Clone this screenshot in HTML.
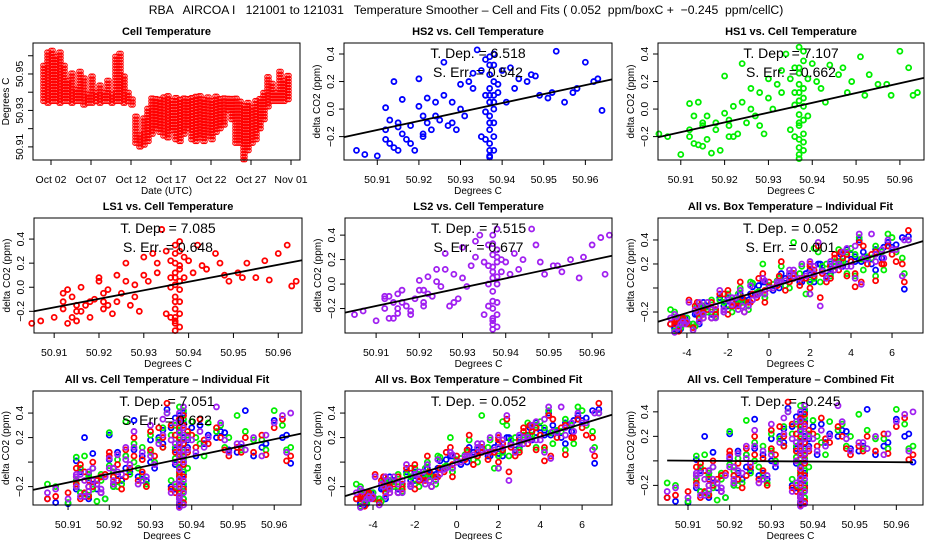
<!DOCTYPE html>
<html><head><meta charset="utf-8"><style>
html,body{margin:0;padding:0;background:#fff;}
svg{display:block;font-family:"Liberation Sans",sans-serif;}
</style></head><body>
<svg id="chart" width="936" height="540" viewBox="0 0 936 540">
<rect width="936" height="540" fill="#fff"/>
<text x="466" y="14" text-anchor="middle" font-size="12.2" style="white-space:pre">RBA   AIRCOA I   121001 to 121031   Temperature Smoother – Cell and Fits ( 0.052  ppm/boxC +  −0.245  ppm/cellC)</text>
</svg>
<script>
// Cell temperature time series: half-day samples starting Oct 1
const tsLow = [50.935,50.934,50.935,50.935,50.934,50.935,50.935,50.934,50.935,50.935,50.933,50.934,50.934,50.935,50.934,50.935,50.935,50.934,50.935,50.935,50.934,50.935,50.933,
50.912,50.91,50.911,
50.913,50.917,50.92,50.918,50.916,50.915,50.919,50.914,50.913,50.917,50.92,50.914,50.913,50.915,50.913,50.916,50.914,50.918,50.92,50.922,
50.93,50.925,50.912,50.912,50.903,50.908,50.912,50.914,50.92,50.925,
50.932,50.935,50.935,50.935,50.935,50.936];
const tsHigh = [50.955,50.962,50.963,50.96,50.963,50.955,50.948,50.952,50.942,50.952,50.948,50.94,50.95,50.94,50.945,50.94,50.948,50.94,50.96,50.962,50.95,50.94,50.937,
50.928,50.918,50.926,
50.932,50.938,50.938,50.937,50.938,50.938,50.937,50.938,50.936,50.938,50.938,50.937,50.938,50.938,50.937,50.938,50.936,50.938,50.938,50.938,
50.938,50.938,50.937,50.936,50.934,50.935,50.933,50.936,50.938,50.94,
50.95,50.945,50.94,50.953,50.948,50.95];
const dateTicks = ["Oct 02","Oct 07","Oct 12","Oct 17","Oct 22","Oct 27","Nov 01"];
const dateTickDays = [2,7,12,17,22,27,32];

// Scatter samples
const cellT = [50.905,50.907,50.910,50.912,50.912,50.913,50.914,50.915,50.915,50.916,50.917,50.918,50.919,50.920,50.921,50.921,50.922,50.923,50.924,50.925,50.926,50.927,50.928,50.929,50.930,50.931,50.932,50.933,50.934,50.935,50.936,50.936,50.937,50.937,50.937,50.937,50.937,50.937,50.937,50.937,50.938,50.938,50.938,50.938,50.938,50.939,50.940,50.941,50.942,50.944,50.946,50.948,50.949,50.951,50.953,50.955,50.957,50.960,50.962,50.964,
50.912,50.913,50.914,50.915,50.916,50.918,50.920,50.921,50.922,50.924,50.926,50.928,50.930,50.933,50.935,50.936,50.937,50.937,50.937,50.937,50.938,50.938,50.938,50.938,50.937,50.936,50.939,50.943,50.947,50.952,50.958,50.963];
const boxT = [-4.8,-4.6,-4.3,-0.8,-3.0,-4.0,2.5,-1.2,-4.5,2.0,-3.6,-3.2,-3.9,4.5,-0.2,-2.6,0.8,-2.0,2.2,-2.4,5.6,-1.5,1.5,-3.4,3.6,-1.4,3.2,4.2,6.8,-3.2,6.2,1.0,-4.4,-4.1,-2.2,-0.6,0.4,2.6,4.8,5.8,-3.7,-1.0,0.0,3.0,5.2,1.8,4.0,-0.3,4.6,3.4,5.0,3.8,2.8,1.2,6.5,1.6,0.6,6.0,2.4,6.6,
-3.5,-2.0,-4.2,-1.6,-3.3,-2.8,-0.5,-2.2,-1.8,-0.9,1.0,-1.3,0.5,2.0,3.5,-2.8,-3.4,-1.8,1.2,3.8,-2.6,-0.2,2.2,4.4,-4.6,0.2,3.2,2.0,5.5,3.0,5.2,4.2];
const hs2 = [-0.30,-0.33,-0.34,0.01,-0.15,-0.25,0.20,-0.10,-0.30,0.07,-0.22,-0.12,-0.30,0.22,-0.05,-0.18,0.08,-0.15,0.05,-0.08,0.34,-0.12,0.05,-0.15,0.18,-0.05,0.20,0.26,0.43,-0.20,0.36,0.10,-0.35,-0.25,-0.15,-0.05,0.05,0.15,0.25,0.38,-0.30,-0.10,0.00,0.20,0.32,0.12,0.28,0.05,0.30,0.22,0.20,0.24,0.10,0.08,0.42,0.05,0.12,0.34,0.20,-0.01,
-0.22,-0.08,-0.28,-0.13,-0.18,-0.25,0.02,-0.20,-0.10,-0.05,0.10,-0.10,0.00,0.15,0.28,-0.22,-0.30,-0.10,0.10,0.32,-0.20,0.05,0.10,0.40,-0.34,-0.02,0.18,0.15,0.25,0.12,0.15,0.22];
const hs1 = [-0.18,-0.20,-0.33,0.04,-0.20,-0.25,0.05,-0.12,-0.27,-0.05,-0.32,-0.15,-0.30,0.24,-0.08,-0.20,0.02,-0.18,0.33,-0.10,0.15,-0.05,0.12,-0.18,0.22,0.00,0.18,0.28,0.40,-0.15,0.30,0.12,-0.33,-0.28,-0.12,-0.04,0.06,0.18,0.26,0.45,-0.30,-0.18,0.02,0.15,0.35,-0.05,0.33,0.20,0.15,0.32,0.25,0.12,0.20,0.38,0.25,0.18,0.18,0.42,0.30,0.12,
-0.15,-0.05,-0.26,-0.10,-0.22,-0.10,-0.03,-0.12,-0.20,0.05,0.00,-0.12,0.08,0.12,0.22,-0.20,-0.22,-0.10,0.12,0.30,-0.24,-0.08,0.08,0.42,-0.36,0.03,0.22,0.05,0.30,0.10,0.10,0.10];
const ls1 = [-0.30,-0.28,-0.25,-0.05,-0.18,-0.30,-0.08,-0.20,-0.28,0.00,-0.15,-0.25,-0.10,0.05,-0.12,-0.18,-0.02,-0.22,0.10,-0.05,0.20,-0.15,0.02,-0.20,0.25,0.05,0.28,0.12,0.48,-0.22,0.22,0.08,-0.36,-0.28,-0.18,-0.08,0.02,0.12,0.20,0.35,-0.33,-0.12,0.05,0.18,0.30,0.08,0.22,0.12,0.35,0.15,0.28,0.10,0.05,0.12,0.20,0.08,0.22,0.28,0.35,0.05,
-0.12,-0.02,-0.25,-0.15,-0.20,-0.12,0.08,-0.05,-0.15,-0.12,0.05,-0.08,0.10,0.20,0.30,-0.25,-0.25,-0.12,0.08,0.28,-0.22,-0.02,0.15,0.38,-0.30,0.00,0.25,0.18,0.20,0.08,0.06,0.01];
const ls2 = [-0.25,-0.22,-0.30,-0.10,-0.12,-0.28,-0.15,-0.20,-0.24,-0.05,-0.18,-0.22,-0.12,0.03,-0.05,-0.15,0.06,-0.10,0.12,-0.02,0.25,-0.18,0.08,-0.12,0.30,-0.02,0.15,0.35,0.40,-0.25,0.32,0.15,-0.33,-0.30,-0.20,-0.06,0.05,0.14,0.24,0.40,-0.35,-0.15,0.00,0.22,0.28,0.10,0.18,0.08,0.25,0.20,0.45,0.18,0.08,0.15,0.10,0.20,0.05,0.32,0.38,0.40,
-0.20,-0.10,-0.28,-0.08,-0.15,-0.25,-0.05,-0.18,-0.08,0.02,0.12,-0.15,0.05,0.22,0.18,-0.18,-0.28,-0.14,0.10,0.33,-0.25,0.06,0.18,0.45,-0.37,0.00,0.20,0.12,0.32,0.15,0.22,0.08];
const fitSlopes = [6.518,7.107,7.085,7.515,0.052,7.051,0.052,-0.245];
const fitErrs = ["0.542","0.662","0.648","0.677","0.001","0.622"];

const NS="http://www.w3.org/2000/svg";
const svg=document.getElementById('chart');
function mk(tag,attrs,parent){const e=document.createElementNS(NS,tag);for(const k in attrs)e.setAttribute(k,attrs[k]);(parent||svg).appendChild(e);return e;}

function panel(name,p,title,xTicks,xLabels,yTicks,yLabels,xTitle,yTitle,sxOverride){
  const g=mk('g',{});
  
  
  const sx=sxOverride||(v=>p.l+(v-p.x0)/(p.x1-p.x0)*(p.r-p.l));
  const sy=v=>p.b-(v-p.y0)/(p.y1-p.y0)*(p.b-p.t);
  const t=mk('text',{x:(p.l+p.r)/2,y:p.t-8,'text-anchor':'middle','font-size':11,'font-weight':'bold'},g);
  t.textContent=title;
  
  
  const marks=mk('g',{},g);
  
  
  const xa=mk('g',{},g);
  
  
  xTicks.forEach((v,i)=>{const x=sx(v);mk('line',{x1:x,x2:x,y1:p.b,y2:p.b+5,stroke:'#000'},xa);
    const tx=mk('text',{x:x,y:p.b+23,'text-anchor':'middle','font-size':10.5},xa);tx.textContent=xLabels[i];
    
    });
  const xt=mk('text',{x:(p.l+p.r)/2,y:p.b+34,'text-anchor':'middle','font-size':10},g);xt.textContent=xTitle;
  
  
  const ya=mk('g',{},g);
  
  
  yTicks.forEach((v,i)=>{const y=sy(v);mk('line',{x1:p.l,x2:p.l-5,y1:y,y2:y,stroke:'#000'},ya);
    if(yLabels[i]!==''){const ty=mk('text',{x:p.l-10,y:y,'text-anchor':'middle','font-size':10.5,transform:`rotate(-90 ${p.l-10} ${y})`},ya);ty.textContent=yLabels[i];
    
    }});
  const yt=mk('text',{x:p.l-24,y:(p.t+p.b)/2,'text-anchor':'middle','font-size':10,transform:`rotate(-90 ${p.l-24} ${(p.t+p.b)/2})`},g);yt.textContent=yTitle;
  
  
  const box=mk('rect',{x:p.l,y:p.t,width:p.r-p.l,height:p.b-p.t,fill:'none',stroke:'#000'},g);
  
  
  return {g,marks,sx,sy,p};
}
function pts(P,xs,ys,color){
  xs.forEach((xv,i)=>{const c=mk('circle',{cx:P.sx(xv),cy:P.sy(ys[i]),r:2.5,fill:'none',stroke:color,'stroke-width':1.8},P.marks);
    
    });
}
function fit(P,slope,x0,c){
  const y=v=>slope*(v-x0)+c;
  const l=mk('line',{x1:P.p.l,y1:P.sy(y(P.p.x0)),x2:P.p.r,y2:P.sy(y(P.p.x1)),stroke:'#000','stroke-width':1.8},P.g);
  
  
}
function ann(P,lines){
  lines.forEach((s,i)=>{const t=mk('text',{x:(P.p.l+P.p.r)/2,y:P.p.t+15+i*19,'text-anchor':'middle','font-size':14},P.g);t.textContent=s;
    
    });
}
const cellTicks=[50.91,50.92,50.93,50.94,50.95,50.96];
const cellLab=cellTicks.map(v=>v.toFixed(2));
const boxTicks=[-4,-2,0,2,4,6], boxLab=boxTicks.map(String);
const yT=[-0.2,0,0.2,0.4];
const yL4=['−0.2','0.0','0.2','0.4'], yL3=['−0.2','','0.2','0.4'];
const YT='delta CO2 (ppm)';
const BLUE='#0000ff',GREEN='#00ee00',RED='#ff0000',PURP='#a020f0';

// Panel 1
const P1=panel('cell-temperature-panel',{l:33,r:300,t:43,b:160,x0:0,x1:1,y0:50.9028,y1:50.967},'Cell Temperature',
  dateTickDays,dateTicks,[50.91,50.92,50.93,50.94,50.95,50.96],['50.91','','50.93','','50.95',''],'Date (UTC)','Degrees C',d=>51+(d-2)*8);
tsLow.forEach((lo,k)=>{
  const day=1+k*0.5;
  for(let dx=0;dx<4;dx+=2){
    const x=P1.sx(day)+dx;
    const yTop=P1.sy(tsHigh[k]), yBot=P1.sy(lo);
    for(let y=yBot;y>=yTop-0.1;y-=3){
      const c=mk('circle',{cx:x,cy:y,r:2.2,fill:'none',stroke:RED,'stroke-width':1.1},P1.marks);
      
      
    }
  }
});

// Panels 2-5
const specs=[
 ['hs2-panel',{l:344,r:612,t:43,b:160,x0:50.902,x1:50.9664,y0:-0.37,y1:0.48},'HS2 vs. Cell Temperature',hs2,BLUE,yL4],
 ['hs1-panel',{l:658,r:924,t:43,b:160,x0:50.9048,x1:50.9655,y0:-0.37,y1:0.48},'HS1 vs. Cell Temperature',hs1,GREEN,yL4],
 ['ls1-panel',{l:34,r:302,t:218,b:333,x0:50.9055,x1:50.9653,y0:-0.38,y1:0.575},'LS1 vs. Cell Temperature',ls1,RED,yL4],
 ['ls2-panel',{l:345,r:612,t:218,b:333,x0:50.9028,x1:50.9646,y0:-0.40,y1:0.54},'LS2 vs. Cell Temperature',ls2,PURP,yL4]];
specs.forEach((s,i)=>{
  const P=panel(s[0],s[1],s[2],cellTicks,cellLab,yT,s[5],'Degrees C',YT);
  pts(P,cellT,s[3],s[4]);
  fit(P,fitSlopes[i],50.937,0.024);
  ann(P,['T. Dep. =  '+fitSlopes[i].toFixed(3),'S. Err. =  '+fitErrs[i]]);
});
const series=[[hs2,BLUE],[hs1,GREEN],[ls1,RED],[ls2,PURP]];
const P6=panel('all-box-individual-panel',{l:658,r:923,t:218,b:333,x0:-5.41,x1:7.51,y0:-0.375,y1:0.583},'All vs. Box Temperature – Individual Fit',boxTicks,boxLab,yT,yL3,'Degrees C',YT);
series.forEach(s=>pts(P6,boxT,s[0],s[1]));
fit(P6,fitSlopes[4],0,0);
ann(P6,['T. Dep. =  '+fitSlopes[4].toFixed(3),'S. Err. =  '+fitErrs[4]]);
const P7=panel('all-cell-individual-panel',{l:33,r:301,t:391,b:505,x0:50.9015,x1:50.9665,y0:-0.35,y1:0.58},'All vs. Cell Temperature – Individual Fit',cellTicks,cellLab,yT,yL3,'Degrees C',YT);
series.forEach(s=>pts(P7,cellT,s[0],s[1]));
fit(P7,fitSlopes[5],50.937,0.024);
ann(P7,['T. Dep. =  '+fitSlopes[5].toFixed(3),'S. Err. =  '+fitErrs[5]]);
const P8=panel('all-box-combined-panel',{l:345,r:612,t:391,b:505,x0:-5.34,x1:7.43,y0:-0.35,y1:0.58},'All vs. Box Temperature – Combined Fit',boxTicks,boxLab,yT,yL3,'Degrees C',YT);
series.forEach(s=>pts(P8,boxT,s[0],s[1]));
fit(P8,fitSlopes[6],0,0);
ann(P8,['T. Dep. =  '+fitSlopes[6].toFixed(3)]);
const P9=panel('all-cell-combined-panel',{l:658,r:923,t:391,b:505,x0:50.9028,x1:50.9664,y0:-0.36,y1:0.57},'All vs. Cell Temperature – Combined Fit',cellTicks,cellLab,yT,yL3,'Degrees C',YT);
series.forEach(s=>pts(P9,cellT,s[0],s[1]));
const l9=mk('line',{x1:P9.sx(50.905),y1:P9.sy(fitSlopes[7]*(50.905-50.937)-0.005),x2:P9.sx(50.964),y2:P9.sy(fitSlopes[7]*(50.964-50.937)-0.005),stroke:'#000','stroke-width':1.8},P9.g);


ann(P9,['T. Dep. =  '+fitSlopes[7].toFixed(3)]);
</script>
</body></html>
